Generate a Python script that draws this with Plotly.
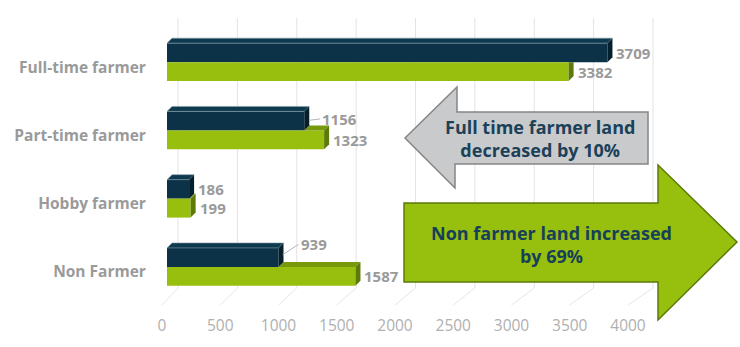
import plotly.graph_objects as go

# ---- data -------------------------------------------------------------
categories = ["Full-time farmer", "Part-time farmer", "Hobby farmer", "Non Farmer"]
earlier = [3709, 1156, 186, 939]      # dark series
later = [3382, 1323, 199, 1587]       # green series
x_ticks = [0, 500, 1000, 1500, 2000, 2500, 3000, 3500, 4000]

# ---- geometry / style -------------------------------------------------
W, H = 740, 347
X0_PX, X1_PX = 167, 642          # value axis (0 .. 4000) in pixels
FX0_PX, FX1_PX = 162, 628        # front floor where tick labels sit
Y_TOP, Y_BOT = 28, 301           # category band
BACK_DX = 11                     # back wall offset
FLOOR_FRONT, FLOOR_BACK, GRID_TOP = 305, 288, 18
DEPTH = 5                        # 3D depth of each bar in px
BARGAP = 0.444
XMAX = 4000

DARK, DARK_TOP, DARK_SIDE = "#0b3247", "#0e3a50", "#061f2c"
GREEN, GREEN_TOP, GREEN_SIDE = "#98bf0e", "#78990b", "#5d7a08"
LABEL_GREY = "#9a9a9a"
FONT = "Open Sans"


def px(xp):
    return xp / W


def py(yp):
    return 1 - yp / H


px_per_val = (X1_PX - X0_PX) / XMAX
px_per_cat = (Y_BOT - Y_TOP) / len(categories)
ddx = DEPTH / px_per_val
ddy = DEPTH / px_per_cat
bw = (1 - BARGAP) / 2            # width of one bar in category units
pos = list(range(len(categories)))

fig = go.Figure()
fig.add_bar(y=pos, x=earlier, orientation="h", name="Earlier",
            marker=dict(color=DARK, line=dict(width=0)))
fig.add_bar(y=pos, x=later, orientation="h", name="Later",
            marker=dict(color=GREEN, line=dict(width=0)))
# helper trace so the floor tick axis is drawn
fig.add_scatter(x=[None], y=[None], xaxis="x2", yaxis="y", showlegend=False,
                hoverinfo="skip")

shapes = []

# back wall gridlines and floor diagonals
for v in x_ticks:
    back = X0_PX + v * px_per_val + BACK_DX
    front = FX0_PX + v * (FX1_PX - FX0_PX) / XMAX
    shapes.append(dict(type="line", xref="paper", yref="paper", layer="below",
                       x0=px(back), x1=px(back), y0=py(GRID_TOP), y1=py(FLOOR_BACK),
                       line=dict(color="#e3e3e3", width=1)))
    shapes.append(dict(type="line", xref="paper", yref="paper", layer="below",
                       x0=px(front), x1=px(back), y0=py(FLOOR_FRONT), y1=py(FLOOR_BACK),
                       line=dict(color="#e6e6e6", width=1)))


def poly(points, fill, line_color=None):
    path = "M " + " L ".join(f"{x},{y}" for x, y in points) + " Z"
    return dict(type="path", xref="x", yref="y", path=path, fillcolor=fill,
                line=dict(color=line_color or fill, width=0.6 if line_color else 0))


# 3D faces of the bars
for i, d, g in zip(pos, earlier, later):
    top, mid, bot = i - bw, i, i + bw
    # green series: visible top face and side face
    if g > d:
        shapes.append(poly([(d, mid), (g, mid), (g + ddx, mid - ddy), (d + ddx, mid - ddy)],
                           GREEN_TOP))
        shapes.append(poly([(g, mid), (g + ddx, mid - ddy), (g + ddx, bot - ddy), (g, bot)],
                           GREEN_SIDE))
    else:
        shapes.append(poly([(g, mid), (g + ddx, mid), (g + ddx, bot - ddy), (g, bot)],
                           GREEN_SIDE))
    # dark series: top face and side face
    shapes.append(poly([(0, top), (d, top), (d + ddx, top - ddy), (ddx, top - ddy)],
                       DARK_TOP, "#8f9ea8"))
    shapes.append(poly([(d, top), (d + ddx, top - ddy), (d + ddx, mid - ddy), (d, mid)],
                       DARK_SIDE))


def arrow(points, fill, edge):
    path = "M " + " L ".join(f"{px(x)},{py(y)}" for x, y in points) + " Z"
    return dict(type="path", xref="paper", yref="paper", path=path, fillcolor=fill,
                line=dict(color=edge, width=1.5))


shapes.append(arrow([(405, 138), (457, 87), (457, 112), (648, 112), (648, 164),
                     (455, 164), (455, 188)], "#c9cacc", "#858585"))
shapes.append(arrow([(404, 203), (658, 203), (658, 165), (737, 242), (658, 320),
                     (658, 282), (404, 282)], "#97bf0d", "#5c7a0a"))

annotations = []
# value labels
lead = {1156: (16, -2), 939: (20, -13)}
for i, d, g in zip(pos, earlier, later):
    for val, yc in ((d, i - bw / 2), (g, i + bw / 2)):
        if val in lead:
            ax, ay = lead[val]
            annotations.append(dict(x=val, y=yc, xref="x", yref="y", text=str(val),
                                    showarrow=True, arrowhead=0, arrowwidth=1,
                                    arrowcolor="#b5b5b5", ax=ax, ay=ay, standoff=5,
                                    xanchor="left", font=dict(family=FONT, size=15,
                                    color=LABEL_GREY, weight="bold")))
        else:
            annotations.append(dict(x=val, y=yc, xref="x", yref="y", text=str(val),
                                    showarrow=False, xanchor="left", xshift=7,
                                    font=dict(family=FONT, size=15, color=LABEL_GREY,
                                              weight="bold")))

# arrow captions
annotations.append(dict(x=px(540), y=py(138), xref="paper", yref="paper",
                        xanchor="center", yanchor="middle",
                        text="Full time farmer land<br>decreased by 10%", showarrow=False,
                        font=dict(family=FONT, size=18, color="#1b4159", weight="bold")))
annotations.append(dict(x=px(551), y=py(244), xref="paper", yref="paper",
                        xanchor="center", yanchor="middle",
                        text="Non farmer land increased<br>by 69%", showarrow=False,
                        font=dict(family=FONT, size=18, color="#163f5a", weight="bold")))

fig.update_layout(
    template="none",
    width=W, height=H, margin=dict(l=0, r=0, t=0, b=0, pad=0), autosize=False,
    paper_bgcolor="white", plot_bgcolor="rgba(0,0,0,0)",
    barmode="group", bargap=BARGAP, bargroupgap=0, showlegend=False,
    shapes=shapes, annotations=annotations,
    xaxis=dict(domain=[px(X0_PX), px(X1_PX)], range=[0, XMAX], showgrid=False,
               zeroline=False, showticklabels=False, showline=False, automargin=False),
    xaxis2=dict(domain=[px(FX0_PX), px(FX1_PX)], range=[0, XMAX], anchor="free",
                position=py(314), tickvals=x_ticks, showgrid=False, zeroline=False,
                showline=False, ticks="", automargin=False,
                tickfont=dict(family=FONT, size=15.5, color="#b0b0b0")),
    yaxis=dict(domain=[py(Y_BOT), py(Y_TOP)], range=[len(categories) - 0.5, -0.5],
               tickvals=pos, ticktext=categories, showgrid=False, zeroline=False,
               showline=False, ticks="outside", ticklen=17, tickcolor="rgba(0,0,0,0)",
               ticklabelshift=-5, automargin=False,
               tickfont=dict(family=FONT, size=15.5, color=LABEL_GREY, weight="bold")),
)

fig.write_html("out.html")
